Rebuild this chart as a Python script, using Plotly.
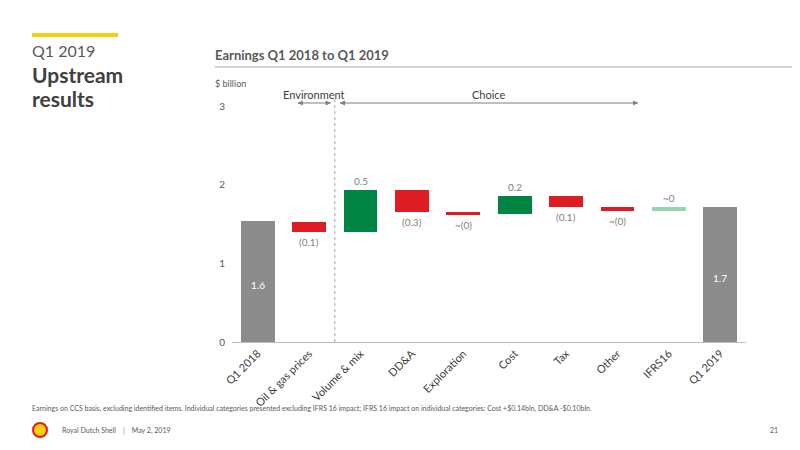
import plotly.graph_objects as go

categories = ["Q1 2018", "Oil & gas prices", "Volume & mix", "DD&A", "Exploration",
              "Cost", "Tax", "Other", "IFRS16", "Q1 2019"]
bar_bottom = [0, 1.40, 1.40, 1.65, 1.61, 1.63, 1.72, 1.67, 1.67, 0]
bar_top = [1.54, 1.53, 1.93, 1.93, 1.65, 1.85, 1.85, 1.72, 1.72, 1.72]
colors = ["#8c8c8c", "#dd1d21", "#008443", "#dd1d21", "#dd1d21",
          "#008443", "#dd1d21", "#dd1d21", "#99d4b2", "#8c8c8c"]
labels = ["1.6", "(0.1)", "0.5", "(0.3)", "~(0)", "0.2", "(0.1)", "~(0)", "~0", "1.7"]
label_pos = ["in", "below", "above", "below", "below", "above", "below", "below", "above", "in"]

F = "Lato"
fig = go.Figure()
fig.add_bar(x=categories, y=bar_bottom, marker=dict(color="rgba(0,0,0,0)", line=dict(width=0)),
            width=0.66, hoverinfo="skip")
fig.add_bar(x=categories, y=[t - b for t, b in zip(bar_top, bar_bottom)],
            marker=dict(color=colors, line=dict(width=0)), width=0.66)
fig.update_layout(barmode="stack", showlegend=False, width=800, height=450,
                  margin=dict(l=224, r=62, t=98, b=116, autoexpand=False),
                  plot_bgcolor="white", paper_bgcolor="white",
                  font=dict(family=F, color="#595959", size=10))
fig.update_xaxes(tickangle=-45, showline=True, linecolor="#bfbfbf", ticks="", automargin=False,
                 tickfont=dict(size=11, color="#404040"))
fig.update_yaxes(range=[0, 3], showgrid=False, zeroline=False, tickvals=[0, 1, 2, 3], automargin=False,
                 tickfont=dict(size=10, color="#595959"), ticklabelstandoff=6)

for i, (c, lab, pos) in enumerate(zip(categories, labels, label_pos)):
    if pos == "in":
        fig.add_annotation(x=c, y=bar_top[i] / 2 - 0.05, text=lab, showarrow=False,
                           font=dict(color="white", size=10))
    elif pos == "above":
        fig.add_annotation(x=c, y=bar_top[i], yshift=9, text=lab, showarrow=False,
                           font=dict(size=10, color="#7f7f7f"))
    else:
        fig.add_annotation(x=c, y=bar_bottom[i], yshift=-10, text=lab, showarrow=False,
                           font=dict(size=10, color="#7f7f7f"))

def py(Y):
    return (342 - Y) / 236

# divider and arrows
fig.add_shape(type="line", x0=1.5, x1=1.5, y0=0, y1=py(98), yref="paper", xref="x",
              line=dict(color="#a6a6a6", width=1, dash="dot"))
AY = py(103)
for x0, x1, ttl in [(0.78, 1.42, "Environment"), (1.6, 7.4, "Choice")]:
    fig.add_shape(type="line", xref="x", yref="paper", x0=x0, x1=x1, y0=AY, y1=AY,
                  line=dict(color="#7f7f7f", width=1))
    for xx, off in [(x0, 8), (x1, -8)]:
        fig.add_annotation(x=xx, y=AY, xref="x", yref="paper", ax=off, ay=0, axref="pixel", ayref="pixel",
                           showarrow=True, arrowhead=2, arrowsize=1, arrowwidth=1,
                           arrowcolor="#7f7f7f", text=" ")
    fig.add_annotation(x=(x0 + x1) / 2, y=AY, yshift=9, xref="x", yref="paper", text=ttl,
                       yanchor="middle", showarrow=False, font=dict(size=11, color="#404040"))

# slide decorations
fig.add_shape(type="rect", xref="paper", yref="paper", x0=-200/514, x1=-114/514,
              y0=py(37), y1=py(33), fillcolor="#fbce07", line_width=0)
fig.add_shape(type="line", xref="paper", yref="paper", x0=-17/514, x1=1+48/514,
              y0=py(67), y1=py(67), line=dict(color="#a6a6a6", width=1))
def ptext(x, y, text, size, color="#404040", bold=False, anchor="left"):
    fig.add_annotation(xref="paper", yref="paper", x=(x - 232) / 514, y=py(y),
                       text=f"<b>{text}</b>" if bold else text, showarrow=False,
                       xanchor=anchor, yanchor="middle", font=dict(size=size, color=color, family=F))
ptext(30, 51, "Q1 2019", 16, "#595959")
ptext(30, 75, "Upstream", 21, "#404040", True)
ptext(30, 98, "results", 21, "#404040", True)
ptext(213, 55, "Earnings Q1 2018 to Q1 2019", 13, "#595959", True)
ptext(213, 83, "$ billion", 9, "#595959")
ptext(30, 408, "Earnings on CCS basis, excluding identified items. Individual categories presented excluding IFRS 16 impact; IFRS 16 impact on individual categories: Cost +$0.14bln, DD&A -$0.10bln.", 7, "#595959")
ptext(60, 430, "Royal Dutch Shell   │   May 2, 2019", 7, "#595959")
ptext(780, 430, "21", 7, "#595959", anchor="right")
fig.add_shape(type="circle", xref="paper", yref="paper", x0=(33-232)/514, x1=(47-232)/514,
              y0=py(437), y1=py(423), fillcolor="#fbce07", line=dict(color="#dd1d21", width=2))

fig.write_html("out.html")
